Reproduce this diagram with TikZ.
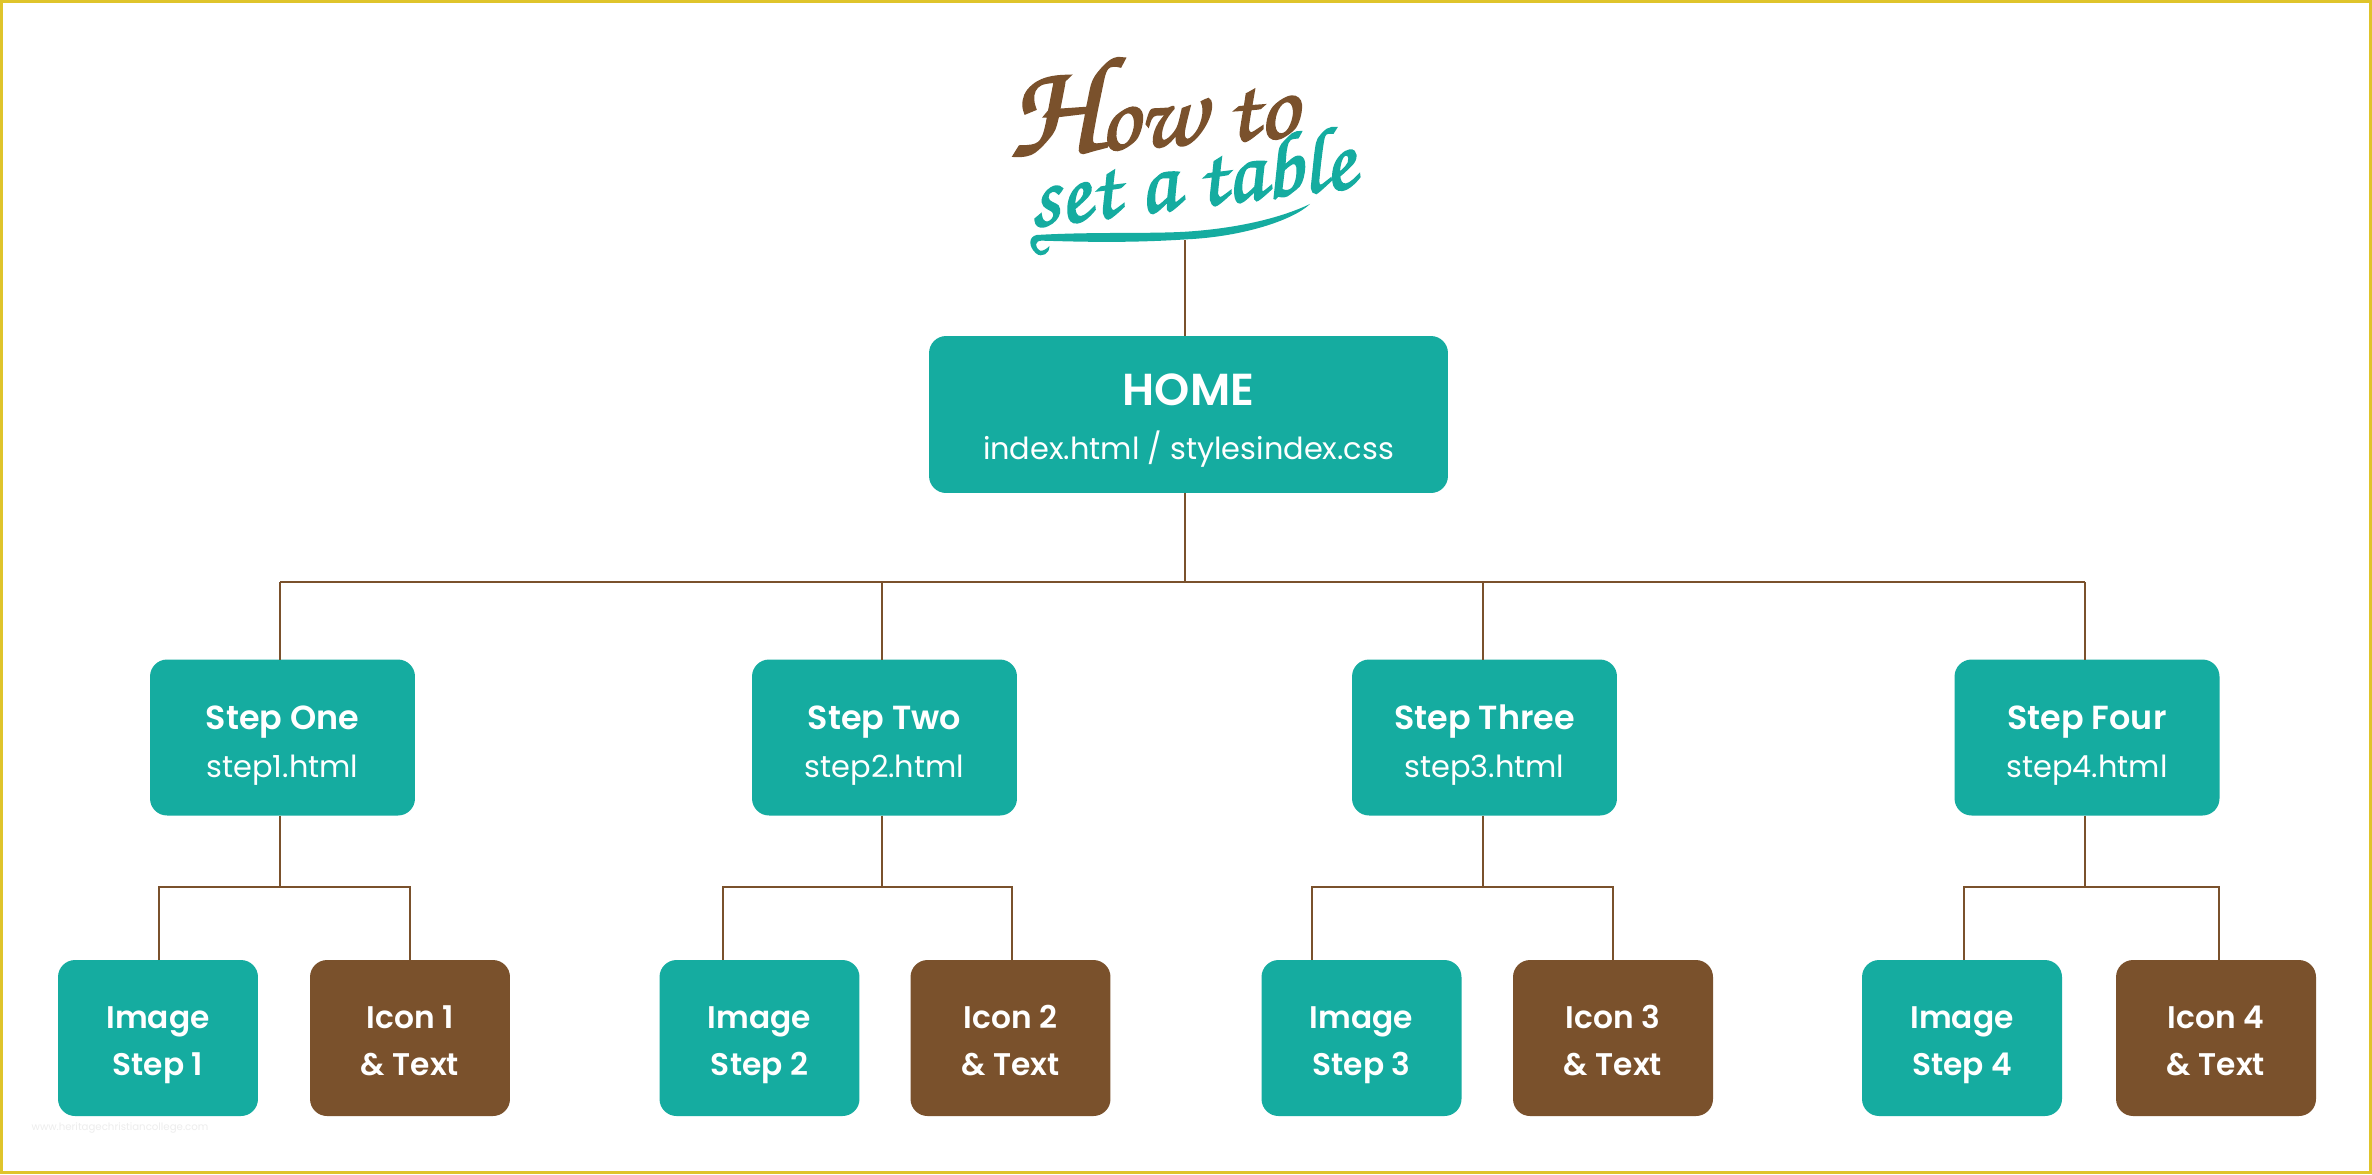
\documentclass[tikz,border=0pt]{standalone}
\usepackage{fontspec}
\setmainfont{Poppins}
\newfontfamily\medfont{Poppins SemiBold}
\newfontfamily\titlefont[FakeBold=2]{TeX Gyre Chorus}
\definecolor{tealbox}{HTML}{15ACA0}
\definecolor{brownbox}{HTML}{7A512C}
\definecolor{frameline}{HTML}{DFC42B}
\newcommand{\pad}[1]{\rule{0pt}{#1}}

\tikzset{
    siteBox/.style={fill=tealbox, text=white, rounded corners=0.34cm, align=center, inner sep=0, outer sep=0},
    homeBox/.style={siteBox, minimum width=10.38cm, minimum height=3.14cm},
    stepBox/.style={siteBox, minimum width=5.3cm, minimum height=3.12cm},
    imageBox/.style={siteBox, minimum width=4cm, minimum height=3.12cm, font=\medfont\fontsize{17.8}{27}\selectfont},
    iconBox/.style={imageBox, fill=brownbox},
    link/.style={draw=brownbox, line width=1.1pt}
}

\begin{document}
\begin{tikzpicture}[x=0.02cm, y=-0.02cm, inner sep=0, outer sep=0]

    % page and frame
    \useasboundingbox (0,0) rectangle (2372,1174);
    \fill [white] (0,0) rectangle (2372,1174);
    \draw [frameline, line width=1.7pt] (1.5,1.5) rectangle (2370.5,1172.5);

    % title
    \node (how) [text=brownbox, rotate=4, font=\titlefont\fontsize{56}{56}\selectfont] at (1151,102) {{\fontsize{76}{76}\selectfont H}ow to};
    \node (settable) [text=tealbox, rotate=7, font=\titlefont\fontsize{52}{52}\selectfont] at (1191,177) {set a table};
    \fill [tealbox, shift={(960,30)}, x=0.00667cm, y=-0.00667cm]
        (230,615) .. controls (400,605) and (560,612) .. (680,605)
        .. controls (830,595) and (960,565) .. (1050,522)
        .. controls (1000,570) and (850,620) .. (680,628)
        .. controls (500,640) and (350,635) .. (245,632)
        .. controls (225,632) and (222,650) .. (240,662)
        .. controls (250,664) and (262,655) .. (268,648)
        .. controls (270,670) and (245,685) .. (228,670)
        .. controls (205,650) and (205,620) .. (230,615) -- cycle;

    % home
    \coordinate (swash) at (1185,240);
    \coordinate (bus) at (1185,582);
    \node (home) [homeBox] at (1188.5,414.5) {%
        {\medfont\fontsize{25.5}{25.5}\selectfont\pad{25pt}HOME}\\[13pt]
        {\fontsize{17.3}{17.3}\selectfont index.html / stylesindex.css}};
    \draw [link] (swash) -- (swash |- home.north);
    \draw [link] (bus |- home.south) -- (bus);

    % steps with their two boxes
    \foreach \num/\title/\stepx/\stemx/\imgx/\imglink/\icox/\icolink in {
        1/One/282.5/280/158/159/410/410,
        2/Two/884.5/882/759.5/723/1010.5/1012,
        3/Three/1484.5/1483/1361.5/1312/1613/1613,
        4/Four/2087/2085/1962/1964/2216/2219}
    {
        \node (step\num) [stepBox] at (\stepx,737.5) {%
            {\medfont\fontsize{19}{19}\selectfont\pad{23pt}Step \title}\\[8.5pt]
            {\fontsize{17.3}{17.3}\selectfont step\num.html}};
        \node (img\num) [imageBox] at (\imgx,1038) {\pad{20.5pt}Image\\Step \num\vphantom{p}};
        \node (ico\num) [iconBox] at (\icox,1038) {\pad{20.5pt}Icon \num\\\& Text\vphantom{p}};

        \coordinate (top\num) at (\stemx,582);
        \coordinate (sub\num) at (\stemx,887);
        \coordinate (imglink\num) at (\imglink,887);
        \coordinate (icolink\num) at (\icolink,887);

        \draw [link] (top\num) -- (top\num |- step\num.north);
        \draw [link] (top\num |- step\num.south) -- (sub\num);
        \draw [link] (imglink\num |- img\num.north) -- (imglink\num) -- (icolink\num) -- (icolink\num |- ico\num.north);
    }
    \draw [link] (top1) -- (top4);

    % faint web address under the first box
    \node (web) [text=black!7, font=\fontsize{5.8}{6}\selectfont] at (120,1128) {www.heritagechristiancollege.com};

\end{tikzpicture}
\end{document}
